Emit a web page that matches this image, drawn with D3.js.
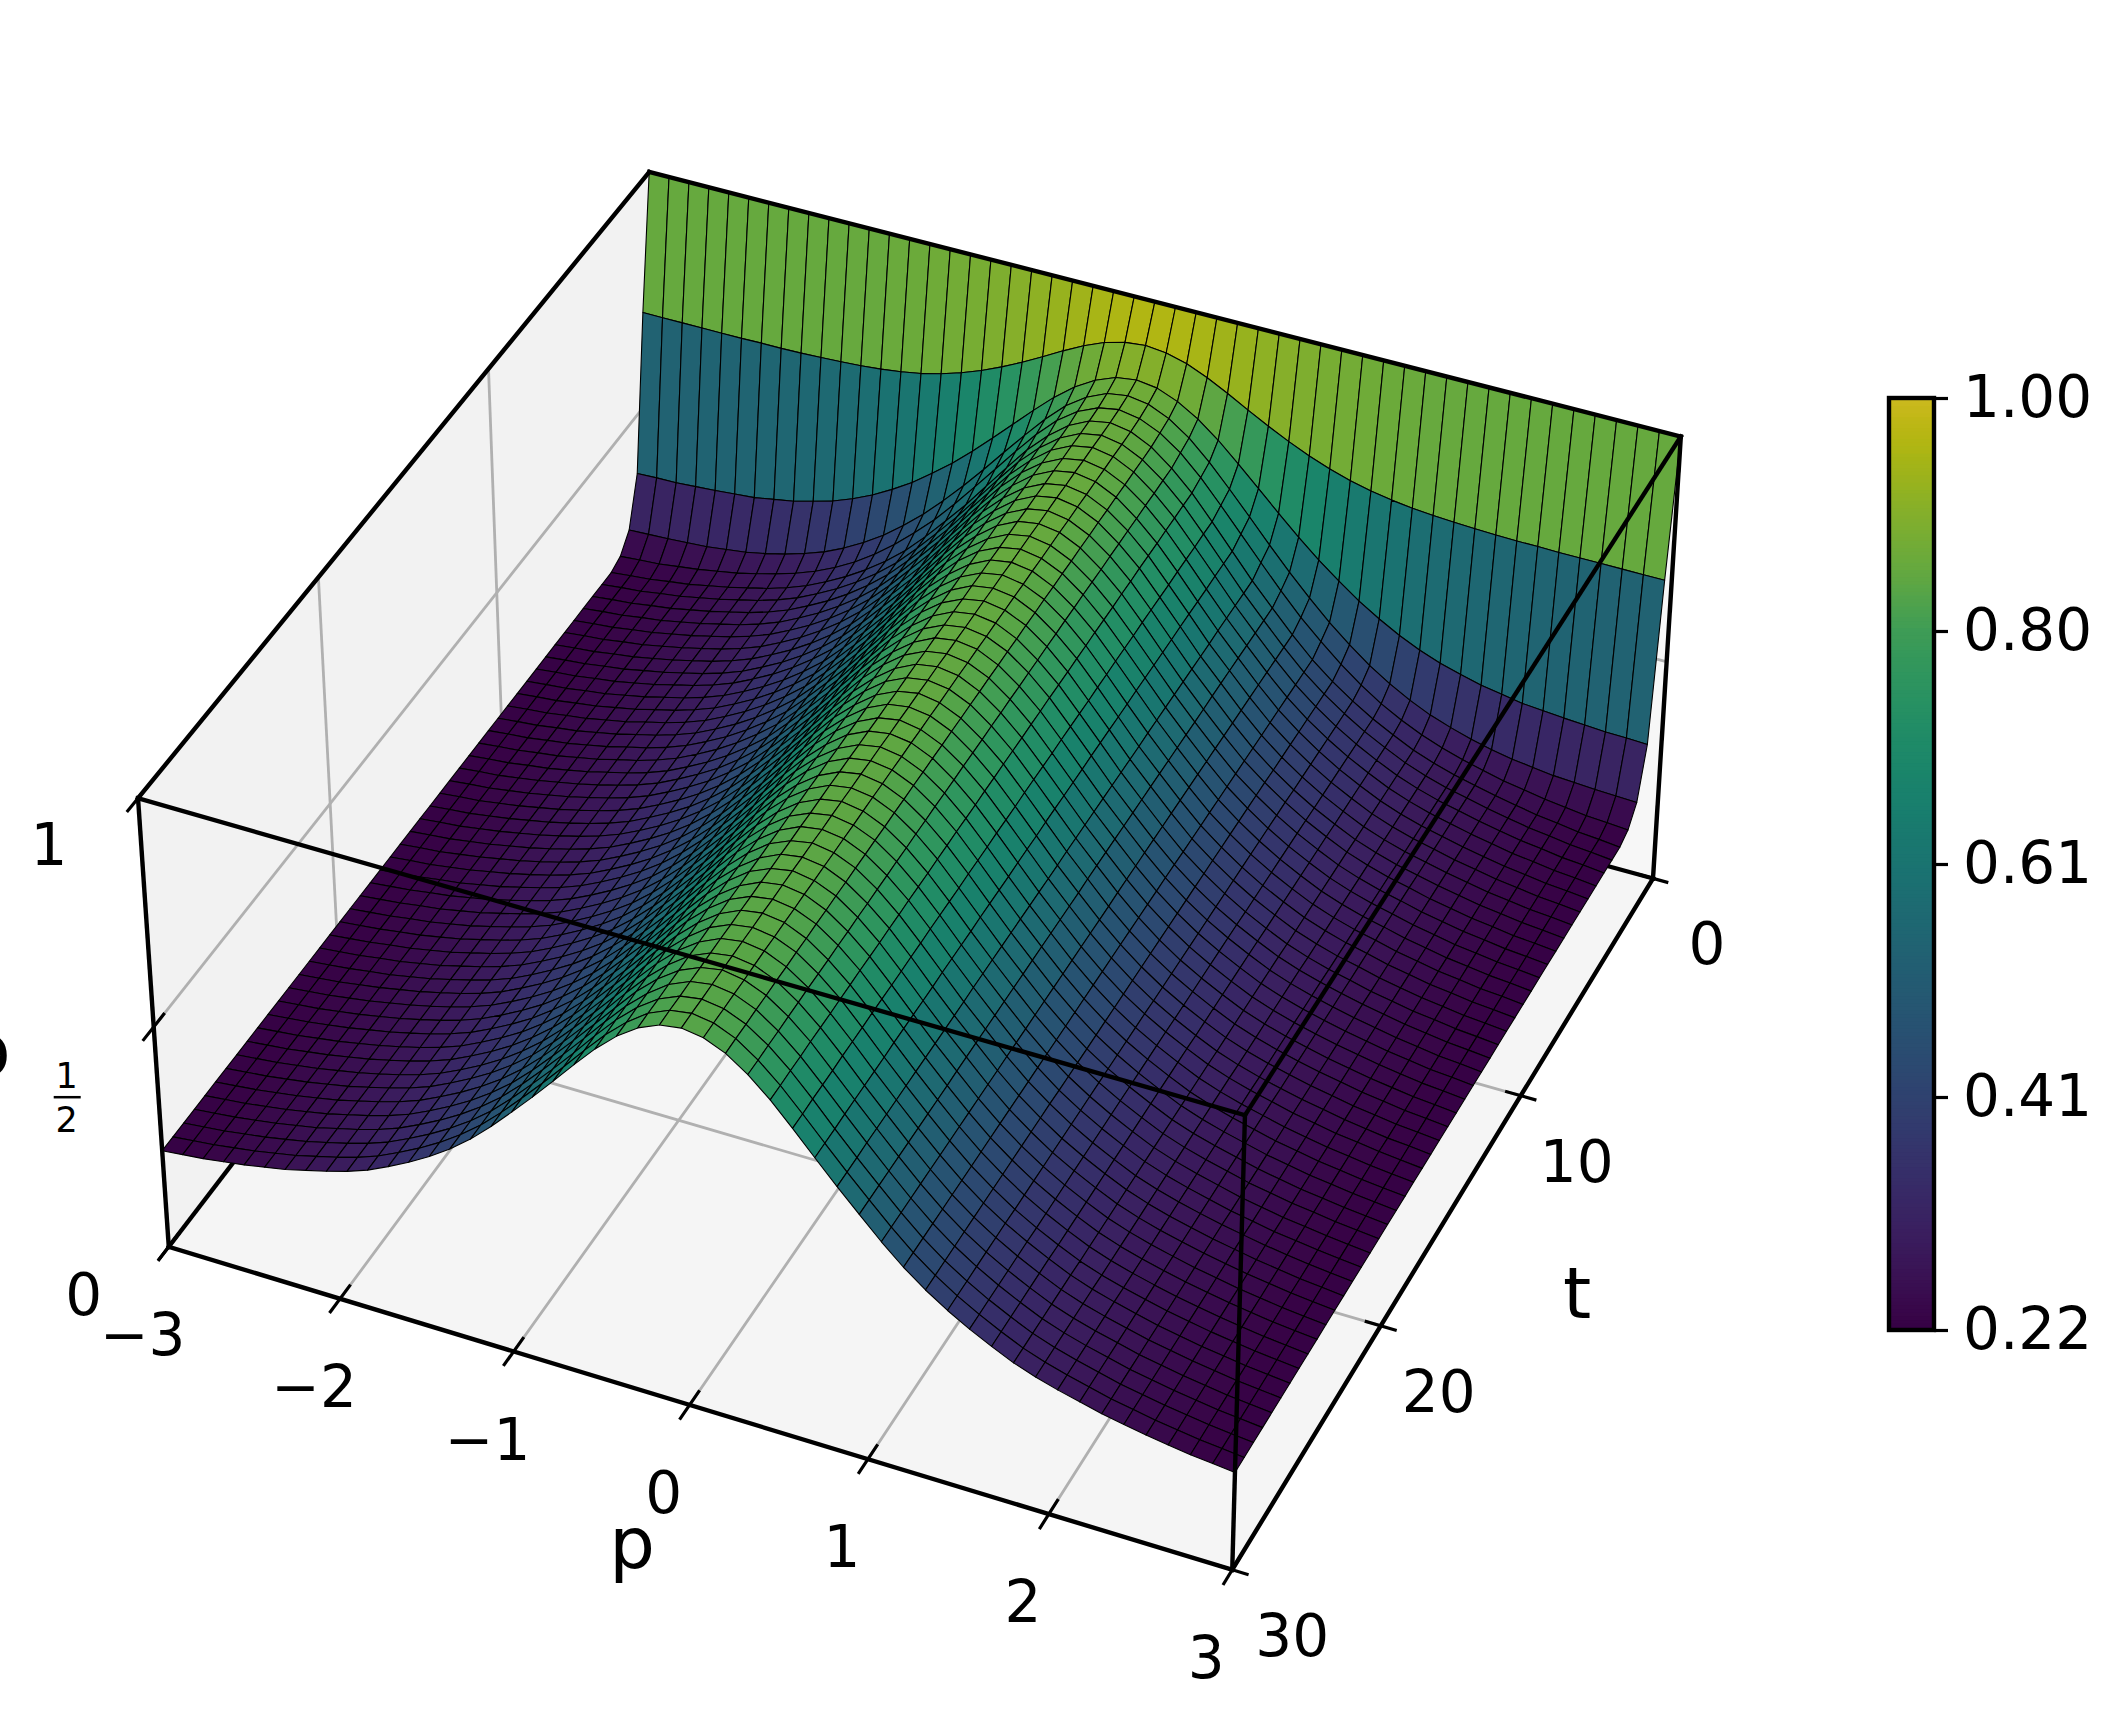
<!DOCTYPE html>
<html>
<head>
<meta charset="utf-8">
<script src="https://cdn.jsdelivr.net/npm/d3@7"></script>
<style>
  html, body { margin: 0; background: #fff; }
  svg { display: block; }
  text { font-family: "DejaVu Sans", sans-serif; fill: #000; }
</style>
</head>
<body>
<div id="chart"></div>
<script>
// p grid, one side only: the surface reads the same on both sides of p = 0
var pHalf = [0, 0.12, 0.24, 0.36, 0.48, 0.6, 0.72, 0.84, 0.96, 1.08, 1.2, 1.32, 1.44, 1.56, 1.68, 1.8, 1.92, 2.04, 2.16, 2.28, 2.4, 2.52, 2.64, 2.76, 2.88, 3];
var tValues = [0, 0.6, 1.2, 1.8, 2.4, 3, 3.6, 4.2, 4.8, 5.4, 6, 6.6, 7.2, 7.8, 8.4, 9, 9.6, 10.2, 10.8, 11.4, 12, 12.6, 13.2, 13.8, 14.4, 15, 15.6, 16.2, 16.8, 17.4, 18, 18.6, 19.2, 19.8, 20.4, 21, 21.6, 22.2, 22.8, 23.4, 24, 24.6, 25.2, 25.8, 26.4, 27, 27.6, 28.2, 28.8, 29.4, 30];

// surface height in thousandths, one row per t, one column per |p|
var zHalf = [
  [1000,1000,1000,1000,1000,1000,1000,1000,1000,1000,1000,1000,1000,1000,1000,1000,1000,1000,1000,1000,1000,1000,1000,1000,1000,1000],
  [930,925,913,894,871,846,822,800,780,763,749,738,730,724,720,717,715,713,712,712,711,711,711,711,711,711],
  [880,874,856,829,794,753,710,667,625,586,551,518,490,465,444,427,414,402,394,386,382,378,375,372,371,369],
  [872,865,845,814,772,724,674,623,574,528,485,447,412,383,358,337,321,307,296,287,281,275,272,269,267,265],
  [868,860,840,808,765,715,663,611,560,512,470,431,396,366,341,320,303,289,277,266,258,250,244,238,235,231],
  [866,858,836,801,758,706,652,598,549,501,457,420,388,360,336,314,297,283,272,261,252,243,237,230,226,221],
  [865,857,835,801,758,706,652,598,549,501,457,420,388,360,336,314,297,283,272,261,252,243,237,230,226,221],
  [865,857,835,800,757,705,652,598,549,501,457,420,388,360,336,314,297,283,272,261,252,243,237,230,226,221],
  [864,856,834,800,757,705,651,598,549,501,457,420,388,360,336,314,297,283,272,261,252,243,237,230,226,221],
  [864,856,834,799,756,705,651,598,549,501,457,420,388,360,336,314,297,283,272,261,252,243,237,230,226,221],
  [863,855,833,799,756,704,651,597,549,501,457,420,388,360,336,314,297,283,272,261,252,243,237,230,226,221],
  [863,855,833,798,756,704,651,597,549,501,457,420,388,360,336,314,297,283,272,261,252,243,237,230,226,221],
  [862,854,832,798,755,704,650,597,549,501,457,420,388,360,336,314,297,283,272,261,252,243,237,230,226,221],
  [861,854,832,797,755,704,650,597,548,501,457,421,389,361,337,315,298,284,273,261,252,243,237,230,226,221],
  [861,853,831,797,754,703,650,597,548,501,457,421,389,361,337,315,298,284,273,261,252,243,237,230,226,221],
  [860,852,831,797,754,703,650,597,548,501,457,421,389,361,337,315,298,284,273,261,252,243,237,230,226,221],
  [859,852,830,796,754,703,650,597,548,501,457,421,389,361,337,315,298,284,273,261,252,243,237,230,226,221],
  [859,851,830,796,753,702,649,597,548,501,457,421,389,361,337,315,298,284,273,261,252,243,237,230,226,221],
  [858,851,829,795,753,702,649,596,548,501,457,421,389,361,337,315,298,284,273,261,252,243,237,230,226,221],
  [858,850,829,795,752,701,649,596,548,501,457,421,389,361,337,315,298,284,273,261,252,243,237,230,226,221],
  [857,850,828,794,752,701,649,596,548,501,457,421,389,361,337,315,298,284,273,261,252,243,237,230,226,221],
  [856,849,828,794,752,701,649,596,548,501,458,421,389,362,338,316,299,285,273,262,253,244,237,230,226,221],
  [856,849,827,793,751,701,648,596,548,501,458,421,389,362,338,316,299,285,273,262,253,244,237,230,226,221],
  [855,848,827,793,751,700,648,596,548,501,458,421,389,362,338,316,299,285,273,262,253,244,237,230,226,221],
  [855,848,826,792,750,700,648,596,548,501,458,421,389,362,338,316,299,285,273,262,253,244,237,230,226,221],
  [854,847,826,792,750,700,648,596,548,501,458,421,389,362,338,316,299,285,273,262,253,244,237,230,226,221],
  [854,846,825,791,750,700,648,596,548,500,458,421,389,362,338,316,299,285,273,262,253,244,237,230,226,221],
  [853,846,825,791,749,699,647,595,547,500,458,421,389,362,338,316,299,285,273,262,253,244,237,230,226,221],
  [853,845,824,791,749,699,647,595,547,500,458,421,389,362,338,316,299,285,273,262,253,244,237,230,226,221],
  [852,845,824,790,748,699,647,595,547,500,458,421,390,363,339,317,300,286,274,262,253,244,238,231,226,221],
  [852,844,823,790,748,698,646,595,547,500,458,421,390,363,339,317,300,286,274,262,253,244,238,231,226,221],
  [851,844,823,790,748,698,646,595,547,500,458,421,390,363,339,317,300,286,274,262,253,244,238,231,226,221],
  [851,843,822,789,747,698,646,595,547,500,458,421,390,363,339,317,300,286,274,262,253,244,238,231,226,221],
  [850,843,822,789,747,697,646,595,547,500,458,421,390,363,339,317,300,286,274,262,253,244,238,231,226,221],
  [850,842,821,788,746,697,645,595,547,500,458,421,390,363,339,317,300,286,274,262,253,244,238,231,226,221],
  [849,841,821,788,746,697,645,595,547,500,458,421,390,363,339,317,300,286,274,262,253,244,238,231,226,221],
  [848,841,820,787,746,697,645,595,547,500,458,421,390,363,339,317,300,286,274,262,253,244,238,231,226,221],
  [848,840,820,787,745,696,645,594,547,500,458,422,390,363,339,317,300,286,274,263,254,245,238,231,226,221],
  [847,840,819,786,745,696,644,594,547,500,458,422,390,363,339,317,300,286,274,263,254,245,238,231,226,221],
  [847,839,819,786,744,695,644,594,547,500,458,422,390,363,339,317,300,286,274,263,254,245,238,231,226,221],
  [846,839,818,785,744,695,644,594,547,500,458,422,390,363,339,317,300,286,274,263,254,245,238,231,226,221],
  [845,838,818,785,744,695,644,594,546,500,458,422,390,363,339,317,300,286,274,263,254,245,238,231,226,221],
  [845,838,817,784,743,695,644,594,546,500,458,422,390,363,339,317,300,286,274,263,254,245,238,231,226,221],
  [844,837,817,784,743,694,643,594,546,500,458,422,390,363,339,317,300,286,274,263,254,245,238,231,226,221],
  [844,837,816,784,742,694,643,594,546,500,458,422,391,364,340,318,301,287,275,263,254,245,238,231,226,221],
  [843,836,816,783,742,694,643,594,546,500,458,422,391,364,340,318,301,287,275,263,254,245,238,231,226,221],
  [843,835,815,783,742,693,643,594,546,500,458,422,391,364,340,318,301,287,275,263,254,245,238,231,226,221],
  [842,835,815,782,741,693,643,594,546,500,458,422,391,364,340,318,301,287,275,263,254,245,238,231,226,221],
  [841,834,814,782,741,693,642,593,546,500,458,422,391,364,340,318,301,287,275,263,254,245,238,231,226,221],
  [841,834,814,781,740,692,642,593,546,500,458,422,391,364,340,318,301,287,275,263,254,245,238,231,226,221],
  [840,833,813,781,740,692,642,593,546,500,458,422,391,364,340,318,301,287,275,263,254,245,238,231,226,221]
];

var pTicks = [-3, -2, -1, 0, 1, 2, 3];
var tTicks = [0, 10, 20, 30];
var zTicks = [0, 0.5, 1];
var colorTicks = [0.22, 0.415, 0.61, 0.805, 1];
var colorTickLabels = ["0.22", "0.41", "0.61", "0.80", "1.00"];

// colormap: position on the bar -> position in viridis
var barStops = [0, 0.25, 0.5, 0.62, 0.75, 0.81, 0.9, 1];
var viridisStops = [0, 0.25, 0.5, 0.61, 0.72, 0.8, 0.89, 1];

// Change these to fine-tune graph
var width = 2122;
var height = 1724;
var font_size = 58;
var label_font_size = 72;
var frame_width = 4.4;
var tick_width = 3.2;
var grid_width = 2.8;
var mesh_width = 1.1;
var tick_dp = 0.08;
var tick_dt = 0.55;
var color_bar = { left: 1889, right: 1934, top: 398, bottom: 1330 };
//////////////////////////////////

// box corners as [x, y, z] in 0..1 and where they land on the page, used to solve the camera
var camera_box = [[0, 1, 0], [1, 1, 0], [1, 0, 0], [0, 0, 1], [0, 1, 1], [1, 1, 1], [1, 0, 1]];
var camera_page = [[169, 1247], [1232, 1570], [1653, 878], [649, 172], [138, 798], [1245, 1115], [1681, 437]];

var solve_camera = function() {
  var rows = [];
  var rhs = [];
  camera_box.forEach(function(b, i) {
    var u = camera_page[i][0] / 1000, v = camera_page[i][1] / 1000;
    rows.push([b[0], b[1], b[2], 1, 0, 0, 0, 0, -u * b[0], -u * b[1], -u * b[2]]);
    rhs.push(u);
    rows.push([0, 0, 0, 0, b[0], b[1], b[2], 1, -v * b[0], -v * b[1], -v * b[2]]);
    rhs.push(v);
  });

  // normal equations, then plain elimination
  var n = 11;
  var a = d3.range(n).map(function(i) {
    var line = d3.range(n).map(function(j) { return d3.sum(rows, function(r) { return r[i] * r[j]; }); });
    line.push(d3.sum(rows, function(r, k) { return r[i] * rhs[k]; }));
    return line;
  });
  for (var i = 0 ; i < n ; i++) {
    var best = i;
    for (var k = i + 1 ; k < n ; k++) {
      if (Math.abs(a[k][i]) > Math.abs(a[best][i])) best = k;
    }
    var tmp = a[i]; a[i] = a[best]; a[best] = tmp;
    for (var k = 0 ; k < n ; k++) {
      if (k == i) continue;
      var f = a[k][i] / a[i][i];
      for (var j = i ; j <= n ; j++) a[k][j] -= f * a[i][j];
    }
  }
  return a.map(function(line, i) { return line[n] / line[i]; });
}

var camera = solve_camera();

var p_scale = d3.scaleLinear().domain([-3, 3]).range([0, 1]);
var t_scale = d3.scaleLinear().domain([0, 30]).range([0, 1]);
var z_scale = d3.scaleLinear().domain([0, 1]).range([0, 1]);

// t = 30 is the near edge, box y = 1
var project = function(p, t, z) {
  var x = p_scale(p), y = t_scale(t), h = z_scale(z);
  var w = camera[8] * x + camera[9] * y + camera[10] * h + 1;
  return [
    1000 * (camera[0] * x + camera[1] * y + camera[2] * h + camera[3]) / w,
    1000 * (camera[4] * x + camera[5] * y + camera[6] * h + camera[7]) / w
  ];
}

var bar_scale = d3.scaleLinear().domain([0.22, 1]).range([0, 1]);
var viridis_pos = d3.scaleLinear().domain(barStops).range(viridisStops).clamp(true);

var color_of = function(z) {
  var c = d3.rgb(d3.interpolateViridis(viridis_pos(bar_scale(z))));
  return d3.rgb(c.r * 0.8, c.g * 0.8, c.b * 0.8).formatHex();
}

// mirror the half table to the full grid
var pValues = pHalf.slice(1).reverse().map(function(d) { return -d; }).concat(pHalf);
var zGrid = zHalf.map(function(row) {
  return row.slice(1).reverse().concat(row).map(function(d) { return d / 1000; });
});

var svg = d3.select("#chart").append("svg")
    .attr("width", width)
    .attr("height", height);

var line = d3.line();

var draw_segment = function(parent, a, b, stroke, stroke_width) {
  parent.append("path")
      .attr("d", line([project(a[0], a[1], a[2]), project(b[0], b[1], b[2])]))
      .attr("fill", "none")
      .attr("stroke", stroke)
      .attr("stroke-width", stroke_width)
      .attr("stroke-linecap", "square");
}

var draw_pane = function(corners, fill) {
  svg.append("path")
      .attr("d", line(corners.map(function(c) { return project(c[0], c[1], c[2]); })) + "Z")
      .attr("fill", fill);
}

// *** PANES AND GRID *** //

draw_pane([[-3, 0, 0], [-3, 30, 0], [-3, 30, 1], [-3, 0, 1]], "#f2f2f2");
draw_pane([[-3, 0, 0], [3, 0, 0], [3, 0, 1], [-3, 0, 1]], "#f7f7f7");
draw_pane([[-3, 0, 0], [3, 0, 0], [3, 30, 0], [-3, 30, 0]], "#f5f5f5");

var grid = svg.append("g");
var grid_color = "#b0b0b0";

pTicks.slice(1, -1).forEach(function(p) {
  draw_segment(grid, [p, 30, 0], [p, 0, 0], grid_color, grid_width);
  draw_segment(grid, [p, 0, 0], [p, 0, 1], grid_color, grid_width);
});
tTicks.slice(1, -1).forEach(function(t) {
  draw_segment(grid, [-3, t, 0], [3, t, 0], grid_color, grid_width);
  draw_segment(grid, [-3, t, 0], [-3, t, 1], grid_color, grid_width);
});
draw_segment(grid, [-3, 30, 0.5], [-3, 0, 0.5], grid_color, grid_width);
draw_segment(grid, [-3, 0, 0.5], [3, 0, 0.5], grid_color, grid_width);

// *** BACK FRAME *** //

var back_frame = svg.append("g");
draw_segment(back_frame, [-3, 30, 0], [-3, 0, 0], "#000", frame_width);
draw_segment(back_frame, [-3, 0, 0], [3, 0, 0], "#000", frame_width);

// *** SURFACE *** //

var cells = [];
for (var i = 0 ; i < tValues.length - 1 ; i++) {
  for (var j = 0 ; j < pValues.length - 1 ; j++) {
    cells.push({
      corners: [[j, i], [j + 1, i], [j + 1, i + 1], [j, i + 1]],
      z: (zGrid[i][j] + zGrid[i][j + 1] + zGrid[i + 1][j + 1] + zGrid[i + 1][j]) / 4
    });
  }
}

// far cells first: camera sits on the high p, high t side, and the loops above already run that way
svg.append("g").selectAll("path")
  .data(cells)
  .join("path")
    .attr("d", function(d) {
      return line(d.corners.map(function(c) { return project(pValues[c[0]], tValues[c[1]], zGrid[c[1]][c[0]]); })) + "Z";
    })
    .attr("fill", function(d) { return color_of(d.z); })
    .attr("stroke", "#000")
    .attr("stroke-width", mesh_width)
    .attr("stroke-linejoin", "round");

// *** FRONT FRAME AND TICKS *** //

var frame = svg.append("g");
var frame_edges = [
  [[-3, 30, 1], [-3, 0, 1]], [[-3, 0, 1], [3, 0, 1]], [[3, 0, 1], [3, 30, 1]], [[3, 30, 1], [-3, 30, 1]],
  [[-3, 30, 0], [-3, 30, 1]], [[3, 30, 0], [3, 30, 1]], [[3, 0, 0], [3, 0, 1]],
  [[-3, 30, 0], [3, 30, 0]], [[3, 30, 0], [3, 0, 0]]
];
frame_edges.forEach(function(e) { draw_segment(frame, e[0], e[1], "#000", frame_width); });

var add_label = function(x, y, label, size) {
  svg.append("text")
      .attr("x", x)
      .attr("y", y)
      .attr("text-anchor", "middle")
      .attr("dominant-baseline", "central")
      .attr("font-size", size)
      .text(label);
}

pTicks.forEach(function(p) {
  draw_segment(frame, [p, 30 - tick_dt, 0], [p, 30 + tick_dt, 0], "#000", tick_width);
  var at = project(p, 30, 0);
  add_label(at[0] - 26, at[1] + 88, d3.format("d")(p).replace("-", "\u2212"), font_size);
});

tTicks.forEach(function(t) {
  draw_segment(frame, [3 - tick_dp, t, 0], [3 + tick_dp, t, 0], "#000", tick_width);
  var at = project(3, t, 0);
  add_label(at[0] + 54 + t * 0.2, at[1] + 66, t, font_size);
});

zTicks.forEach(function(z) {
  draw_segment(frame, [-3, 30 - tick_dt, z], [-3, 30 + tick_dt, z], "#000", tick_width);
  var at = project(-3, 30, z);
  if (z == 0.5) {
    // mathtext fraction
    add_label(at[0] - 87, at[1] + 49, "1", 35);
    add_label(at[0] - 87, at[1] + 93, "2", 35);
    svg.append("rect")
        .attr("x", at[0] - 100)
        .attr("y", at[1] + 69)
        .attr("width", 27)
        .attr("height", 2.5);
  } else {
    add_label(at[0] - (z == 1 ? 89 : 85), at[1] + (z == 1 ? 47 : 48), z, font_size);
  }
});

add_label(632, 1543, "p", label_font_size);
add_label(1577, 1293, "t", label_font_size);
svg.append("text")
    .attr("x", -35)
    .attr("y", 1075)
    .attr("font-size", label_font_size)
    .text("p");

// *** COLORBAR *** //

var bar_y = d3.scaleLinear().domain([0.22, 1]).range([color_bar.bottom, color_bar.top]);
var bar = svg.append("g");

bar.selectAll("rect")
  .data(d3.range(256))
  .join("rect")
    .attr("x", color_bar.left)
    .attr("width", color_bar.right - color_bar.left)
    .attr("y", function(d) { return bar_y(0.22 + 0.78 * (d + 1) / 256); })
    .attr("height", (color_bar.bottom - color_bar.top) / 256 + 1)
    .attr("fill", function(d) { return color_of(0.22 + 0.78 * (d + 0.5) / 256); });

bar.append("rect")
    .attr("x", color_bar.left)
    .attr("y", color_bar.top)
    .attr("width", color_bar.right - color_bar.left)
    .attr("height", color_bar.bottom - color_bar.top)
    .attr("fill", "none")
    .attr("stroke", "#000")
    .attr("stroke-width", frame_width);

var bar_axis = d3.axisRight(bar_y)
    .tickValues(colorTicks)
    .tickFormat(function(d, i) { return colorTickLabels[i]; })
    .tickSize(14)
    .tickPadding(15);

var bar_axis_g = svg.append("g")
    .attr("transform", "translate(" + color_bar.right + ",0)")
    .call(bar_axis);
bar_axis_g.select(".domain").remove();
bar_axis_g.selectAll("line").attr("stroke-width", tick_width);
bar_axis_g.selectAll("text")
    .attr("font-family", "DejaVu Sans")
    .attr("font-size", font_size);
</script>
</body>
</html>
